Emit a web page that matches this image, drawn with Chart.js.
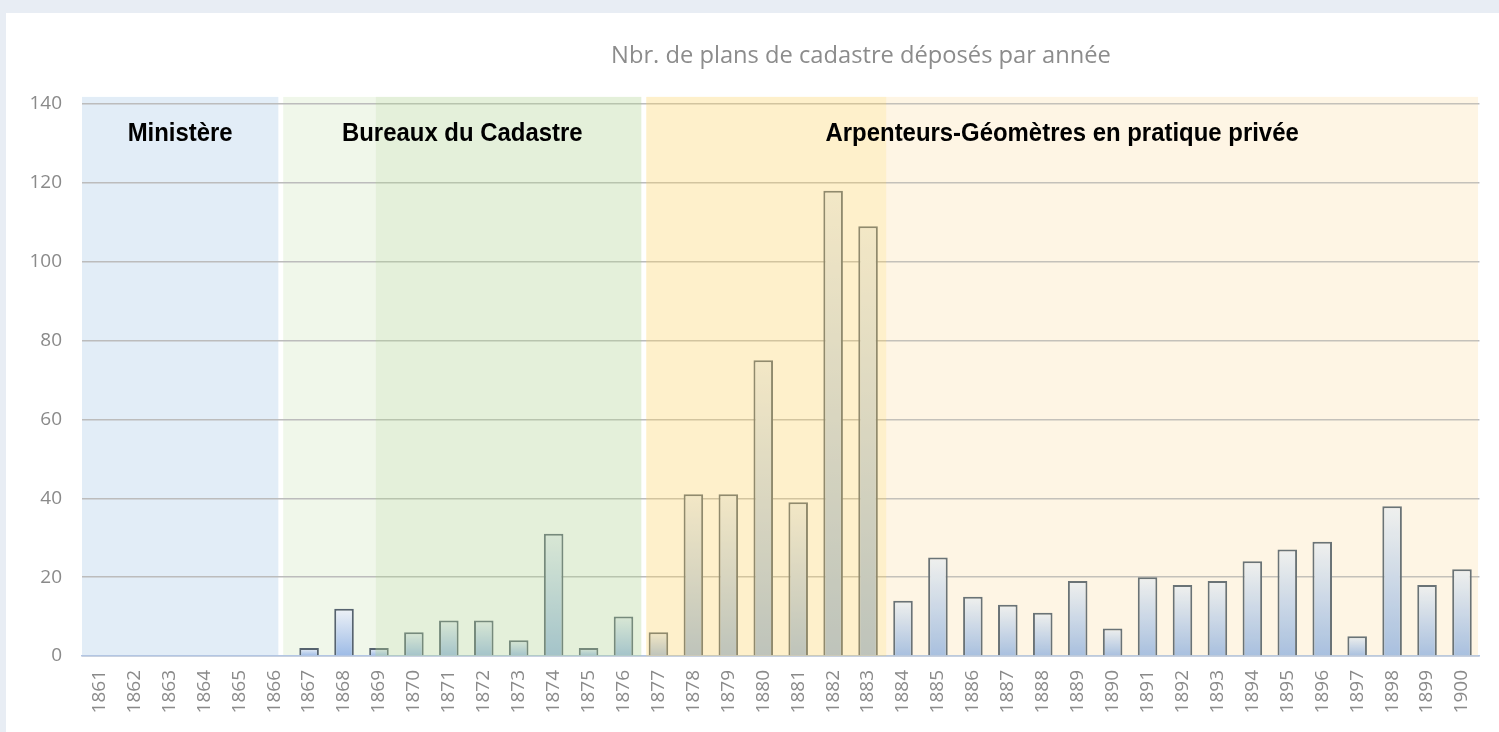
<!DOCTYPE html>
<html>
<head>
<meta charset="utf-8">
<script src="https://cdn.jsdelivr.net/npm/chart.js@4.4.1/dist/chart.umd.min.js"></script>
<style>
  html, body { margin: 0; padding: 0; background: #e8edf4; }
  #wrap { position: absolute; left: 0; top: 0; width: 1499px; height: 732px; }
</style>
</head>
<body>
<div id="wrap"><canvas id="CadastreChart"></canvas></div>
<script>
// categories and values
const years = ['1861','1862','1863','1864','1865','1866','1867','1868','1869','1870',
               '1871','1872','1873','1874','1875','1876','1877','1878','1879','1880',
               '1881','1882','1883','1884','1885','1886','1887','1888','1889','1890',
               '1891','1892','1893','1894','1895','1896','1897','1898','1899','1900'];
const plans = [0, 0, 0, 0, 0, 0, 2, 12, 2, 6,
               9, 9, 4, 31, 2, 10, 6, 41, 41, 75,
               39, 118, 109, 14, 25, 15, 13, 11, 19, 7,
               20, 18, 19, 24, 27, 29, 5, 38, 18, 22];
const yTicks = [0, 20, 40, 60, 80, 100, 120, 140];
const chartTitle = 'Nbr. de plans de cadastre déposés par année';

// shaded periods, in category units (index of the year)
const bandFrom = [-0.5, 5.26, 7.9, 15.65, 22.52];
const bandTo = [5.12, 7.9, 15.51, 22.52, 39.46];
const bandBack = ['#e2edf7', '#f0f7ea', '#ffffff', '#ffffff', '#fef8ec'];
const bandTint = [null, null, 'rgba(178,212,149,0.35)', 'rgba(252,212,106,0.35)', 'rgba(255,230,170,0.12)'];
const groupNames = ['Ministère', 'Bureaux du Cadastre', 'Arpenteurs-Géomètres en pratique privée'];
const groupFrom = [-0.5, 5.26, 15.65];
const groupTo = [5.12, 15.51, 39.46];

const labelFont = '"Open Sans", "Liberation Sans", sans-serif';

function bandGeometry(chart) {
    const x = chart.scales.x;
    const y = chart.scales.y;
    const w = x.getPixelForValue(1) - x.getPixelForValue(0);
    return {
        px: v => x.getPixelForValue(0) + v * w,
        top: y.getPixelForValue(141.8),
        bottom: y.getPixelForValue(0)
    };
}

const framePlugin = {
    id: 'frame',
    beforeDraw(chart) {
        const ctx = chart.ctx;
        ctx.save();
        ctx.fillStyle = '#e8edf4';
        ctx.fillRect(0, 0, chart.width, chart.height);
        ctx.fillStyle = '#ffffff';
        ctx.fillRect(6, 13, chart.width - 6, chart.height - 13);
        ctx.fillStyle = '#8c8c8c';
        ctx.font = '23.7px ' + labelFont;
        ctx.textAlign = 'center';
        ctx.textBaseline = 'middle';
        ctx.fillText(chartTitle, 861, 56);

        const b = bandGeometry(chart);
        for (let i = 0; i < bandFrom.length; i++) {
            ctx.fillStyle = bandBack[i];
            ctx.fillRect(b.px(bandFrom[i]), b.top, b.px(bandTo[i]) - b.px(bandFrom[i]), b.bottom - b.top);
        }
        ctx.restore();
    }
};

const bandPlugin = {
    id: 'bands',
    afterDatasetsDraw(chart) {
        const ctx = chart.ctx;
        const b = bandGeometry(chart);
        ctx.save();
        for (let i = 0; i < bandFrom.length; i++) {
            if (!bandTint[i]) continue;
            ctx.fillStyle = bandTint[i];
            ctx.fillRect(b.px(bandFrom[i]), b.top, b.px(bandTo[i]) - b.px(bandFrom[i]), b.bottom - b.top);
        }
        ctx.fillStyle = '#000000';
        ctx.font = 'bold 26px "Liberation Sans", Arial, sans-serif';
        ctx.textAlign = 'center';
        ctx.textBaseline = 'middle';
        const ly = chart.scales.y.getPixelForValue(132.4);
        for (let i = 0; i < groupNames.length; i++) {
            const cx = (b.px(groupFrom[i]) + b.px(groupTo[i])) / 2;
            ctx.save();
            ctx.translate(cx, ly);
            ctx.scale(0.92, 1);
            ctx.fillText(groupNames[i], 0, 0);
            ctx.restore();
        }
        ctx.restore();
    }
};

function barGradient(context) {
    const area = context.chart.chartArea;
    if (!area) return '#c5d6ec';
    const y = context.chart.scales.y;
    const v = context.raw || 0;
    const top = y.getPixelForValue(v);
    const bottom = y.getPixelForValue(0);
    const g = context.chart.ctx.createLinearGradient(0, Math.min(top, bottom - 1), 0, bottom);
    g.addColorStop(0, '#eef2f7');
    g.addColorStop(1, '#9dbbe6');
    return g;
}

document.addEventListener("DOMContentLoaded", function() {
    const ctx = document.getElementById('CadastreChart').getContext('2d');
    new Chart(ctx, {
        type: 'bar',
        data: {
            labels: years,
            datasets: [{
                label: 'Plans',
                data: plans,
                backgroundColor: barGradient,
                borderColor: '#56636f',
                borderWidth: 2,
                borderSkipped: 'bottom',
                barPercentage: 0.56,
                categoryPercentage: 1.0
            }]
        },
        options: {
            responsive: true,
            maintainAspectRatio: false,
            animation: false,
            layout: { padding: { top: 104, right: 18, bottom: 0, left: 0 } },
            plugins: {
                legend: { display: false },
                title: { display: false },
                tooltip: { enabled: false }
            },
            scales: {
                y: {
                    min: 0,
                    max: 140,
                    afterBuildTicks: axis => { axis.ticks = yTicks.map(v => ({ value: v })); },
                    afterFit: axis => { axis.width = 82; },
                    grid: { color: '#bcbcbc', lineWidth: 1.5, drawTicks: false },
                    border: { display: false },
                    ticks: {
                        padding: 20,
                        color: '#8a8a8a',
                        font: { family: labelFont, size: 19 }
                    }
                },
                x: {
                    afterFit: axis => { axis.height = 76; },
                    grid: { display: false, drawTicks: false },
                    border: { display: true, color: '#b3c6e3', width: 1.5 },
                    ticks: {
                        padding: 14,
                        minRotation: 90,
                        maxRotation: 90,
                        autoSkip: false,
                        color: '#8a8a8a',
                        font: { family: labelFont, size: 19 }
                    }
                }
            }
        },
        plugins: [framePlugin, bandPlugin]
    });
});
</script>
</body>
</html>
